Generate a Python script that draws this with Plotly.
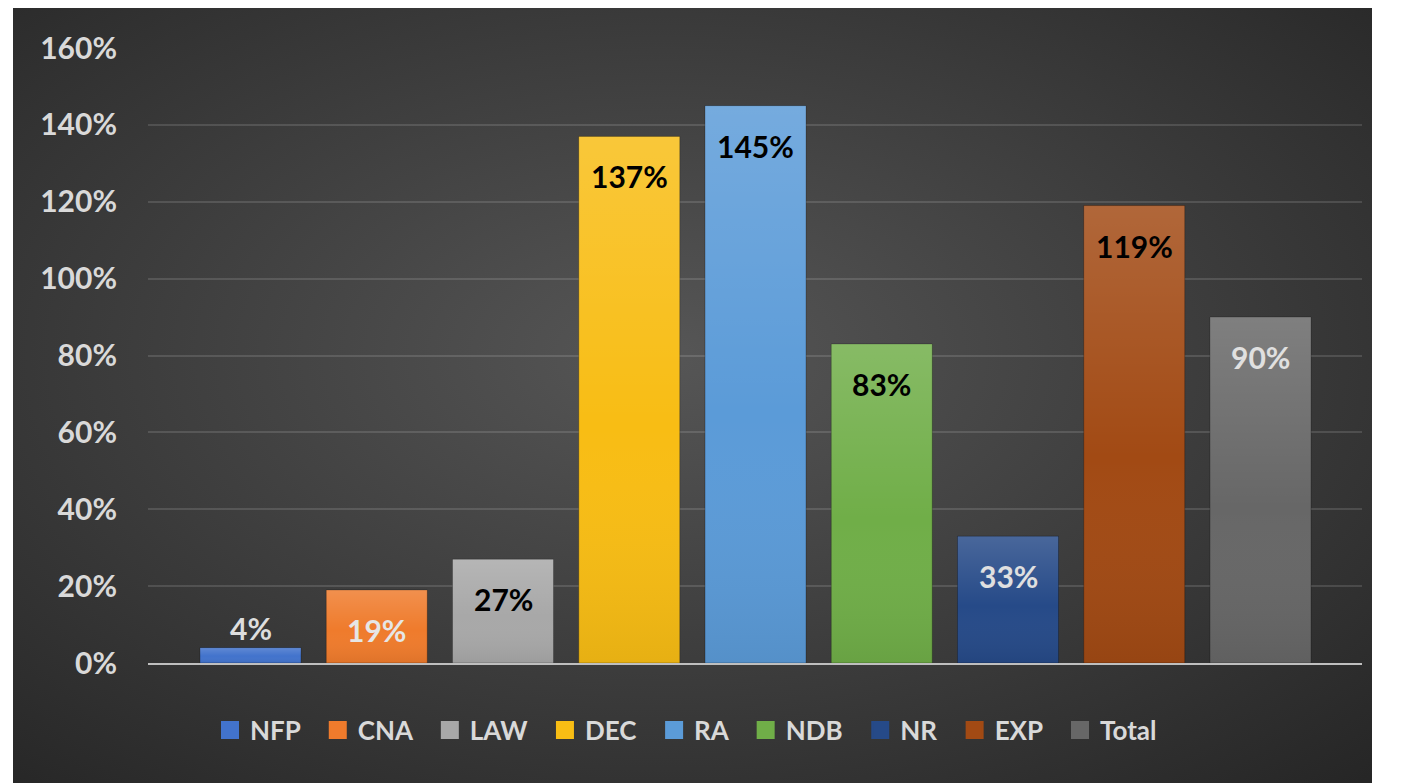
import base64
import plotly.graph_objects as go

# ---- data ----
categories = ["NFP", "CNA", "LAW", "DEC", "RA", "NDB", "NR", "EXP", "Total"]
values = [0.04, 0.19, 0.27, 1.37, 1.45, 0.83, 0.33, 1.19, 0.90]
labels = ["4%", "19%", "27%", "137%", "145%", "83%", "33%", "119%", "90%"]
y_ticks = [0, 0.2, 0.4, 0.6, 0.8, 1.0, 1.2, 1.4, 1.6]
y_tick_labels = ["0%", "20%", "40%", "60%", "80%", "100%", "120%", "140%", "160%"]

# ---- styles ----
bar_colors = ["#4273cc", "#ef7b2c", "#a8a8a8", "#f8bd14", "#5b9bd8",
              "#70ae48", "#264a88", "#a24a14", "#676767"]
label_colors = ["#dedede", "#e6e6e6", "#000000", "#000000", "#000000",
                "#000000", "#e0e0e0", "#000000", "#e0e0e0"]
FONT = "Lato, 'Open Sans', sans-serif"
NB = "\u00a0\u00a0"  # extra spacing after legend names
BAR_W = 0.8

# page places the figure at (8, 8) because of the default body margin
OFF = 8
W, H = 1409 - OFF, 783 - OFF
plot_left, plot_right, plot_top, plot_bottom = 148 - OFF, 1362 - OFF, 48 - OFF, 663 - OFF
L, R, T, B = plot_left, W - plot_right, plot_top, H - plot_bottom

positions = list(range(len(categories)))

fig = go.Figure()
for i, (c, v) in enumerate(zip(categories, values)):
    fig.add_trace(go.Bar(
        x=[positions[i]], y=[v], width=BAR_W, name=c, legendgroup=c, showlegend=False,
        marker=dict(color=bar_colors[i], line=dict(color="rgba(0,0,0,0.25)", width=1)),
        hovertemplate=c + ": %{y:.0%}<extra></extra>",
    ))
    # legend entry with larger square symbol
    fig.add_trace(go.Scatter(
        x=[None], y=[None], mode="markers", name=c + NB, legendgroup=c,
        marker=dict(symbol="square", size=20, color=bar_colors[i],
                    line=dict(color=bar_colors[i], width=2)),
        hoverinfo="skip",
    ))

for i, (v, t) in enumerate(zip(values, labels)):
    inside = v > 0.1
    fig.add_annotation(
        x=positions[i], y=v, text=t, showarrow=False, xref="x", yref="y",
        yanchor="middle", yshift=-40 if inside else 20,
        font=dict(family=FONT, size=30, color=label_colors[i], weight="bold"),
    )


def svg_uri(svg):
    return "data:image/svg+xml;base64," + base64.b64encode(svg.encode()).decode()


# radial gradient background of the chart area
bg_svg = ('<svg xmlns="http://www.w3.org/2000/svg" width="1359" height="778" '
          'viewBox="0 0 1359 778" preserveAspectRatio="none"><defs>'
          '<radialGradient id="g" cx="0.48" cy="0.45" r="0.75">'
          '<stop offset="0" stop-color="#565656"/>'
          '<stop offset="1" stop-color="#262626"/></radialGradient></defs>'
          '<rect width="1359" height="778" fill="url(#g)"/></svg>')

# vertical light-to-dark sheen laid over each bar
sheen_svg = ('<svg xmlns="http://www.w3.org/2000/svg" width="100" height="100" '
             'viewBox="0 0 100 100" preserveAspectRatio="none"><defs>'
             '<linearGradient id="s" x1="0" y1="0" x2="0" y2="1">'
             '<stop offset="0" stop-color="#ffffff" stop-opacity="0.16"/>'
             '<stop offset="0.55" stop-color="#ffffff" stop-opacity="0"/>'
             '<stop offset="1" stop-color="#000000" stop-opacity="0.07"/>'
             '</linearGradient></defs>'
             '<rect width="100" height="100" fill="url(#s)"/></svg>')

pw, ph = W - L - R, H - T - B
x0, x1 = 13 - OFF, 1372 - OFF
y0, y1 = 5 - OFF, 783 - OFF
fig.add_layout_image(dict(
    source=svg_uri(bg_svg), xref="paper", yref="paper",
    x=(x0 - L) / pw, y=(H - B - y0) / ph,
    sizex=(x1 - x0) / pw, sizey=(y1 - y0) / ph,
    xanchor="left", yanchor="top", sizing="stretch", layer="below",
))
sheen = svg_uri(sheen_svg)
for i, v in enumerate(values):
    fig.add_layout_image(dict(
        source=sheen, xref="x", yref="y",
        x=positions[i] - BAR_W / 2, y=v, sizex=BAR_W, sizey=v,
        xanchor="left", yanchor="top", sizing="stretch", layer="above",
    ))

fig.update_layout(
    width=W, height=H,
    margin=dict(l=L, r=R, t=T, b=B, pad=0),
    paper_bgcolor="white", plot_bgcolor="rgba(0,0,0,0)",
    barmode="overlay",
    showlegend=True,
    legend=dict(
        orientation="h", xref="container", yref="container",
        x=((x0 + x1) / 2) / W, xanchor="center",
        y=1 - (730 - OFF) / H, yanchor="middle",
        bgcolor="rgba(0,0,0,0)", itemsizing="trace",
        font=dict(family=FONT, size=26, color="#d9d9d9", weight="bold"),
        traceorder="normal",
    ),
    xaxis=dict(
        range=[-0.812, 8.804], showticklabels=False, showgrid=False,
        showline=True, linecolor="#bfbfbf", linewidth=2, zeroline=False,
        fixedrange=True,
    ),
    yaxis=dict(
        range=[0, 1.6], tickvals=y_ticks, ticktext=y_tick_labels,
        showgrid=True, gridcolor="rgba(255,255,255,0.13)", gridwidth=2,
        zeroline=False, showline=False, ticks="",
        ticklabelstandoff=30,
        tickfont=dict(family=FONT, size=30, color="#d9d9d9", weight="bold"),
        fixedrange=True,
    ),
)

fig.write_html("out.html")
